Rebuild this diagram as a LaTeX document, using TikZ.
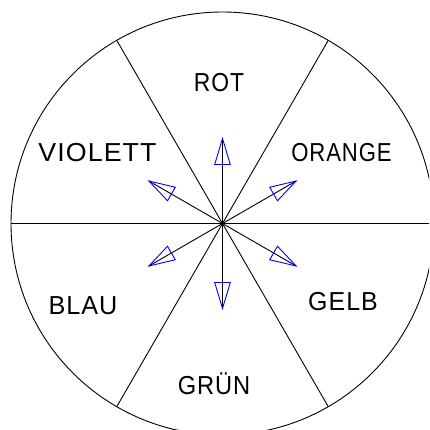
\documentclass[tikz,border=0pt]{standalone}
\usepackage{fontspec}
\setmainfont{Liberation Sans}[LetterSpace=4]
\usetikzlibrary{calc}
\tikzset{
  wheel/.style={line width=0.9pt, black},
  shaft/.style={line width=0.9pt, black},
  tip/.style={line width=0.9pt, blue, line join=miter},
  lab/.style={font=\fontsize{26}{30}\selectfont, inner sep=0pt, anchor=center}
}
\begin{document}
\begin{tikzpicture}[x=1pt,y=-1pt]
\useasboundingbox (0,0) rectangle (429,430);
\clip (0,0) rectangle (429,430);
\coordinate (c) at (222.5,223.5);
\def\R{211.5}
\draw[wheel] (c) circle[radius=\R];
\foreach \a in {0,60,120,180,240,300}{
  \draw[wheel] (c) -- ($(c)+(\a:\R)$);
}
\foreach \a in {30,90,150,210,270,330}{
  \draw[shaft] (c) -- ($(c)+(\a:85)$);
  \draw[tip] ($(c)+(\a:85)$) -- ($(c)+(\a:59)+(\a+90:7.8)$) -- ($(c)+(\a:59)+(\a-90:7.8)$) -- cycle;
}
\node[lab] (rot) at (219,82.5) {\scalebox{0.88}[1]{ROT}};
\node[lab] (violett) at (97.5,152.5) {\scalebox{1.03}[1]{VIOLETT}};
\node[lab] (orange) at (341.5,153) {\scalebox{0.85}[1]{ORANGE}};
\node[lab] (blau) at (83,305.5) {\scalebox{0.97}[1]{BLAU}};
\node[lab] (gelb) at (343,302) {\scalebox{0.96}[1]{GELB}};
\node[lab] (gruen) at (214,384) {\scalebox{0.91}[1]{GRÜN}};
\end{tikzpicture}
\end{document}
